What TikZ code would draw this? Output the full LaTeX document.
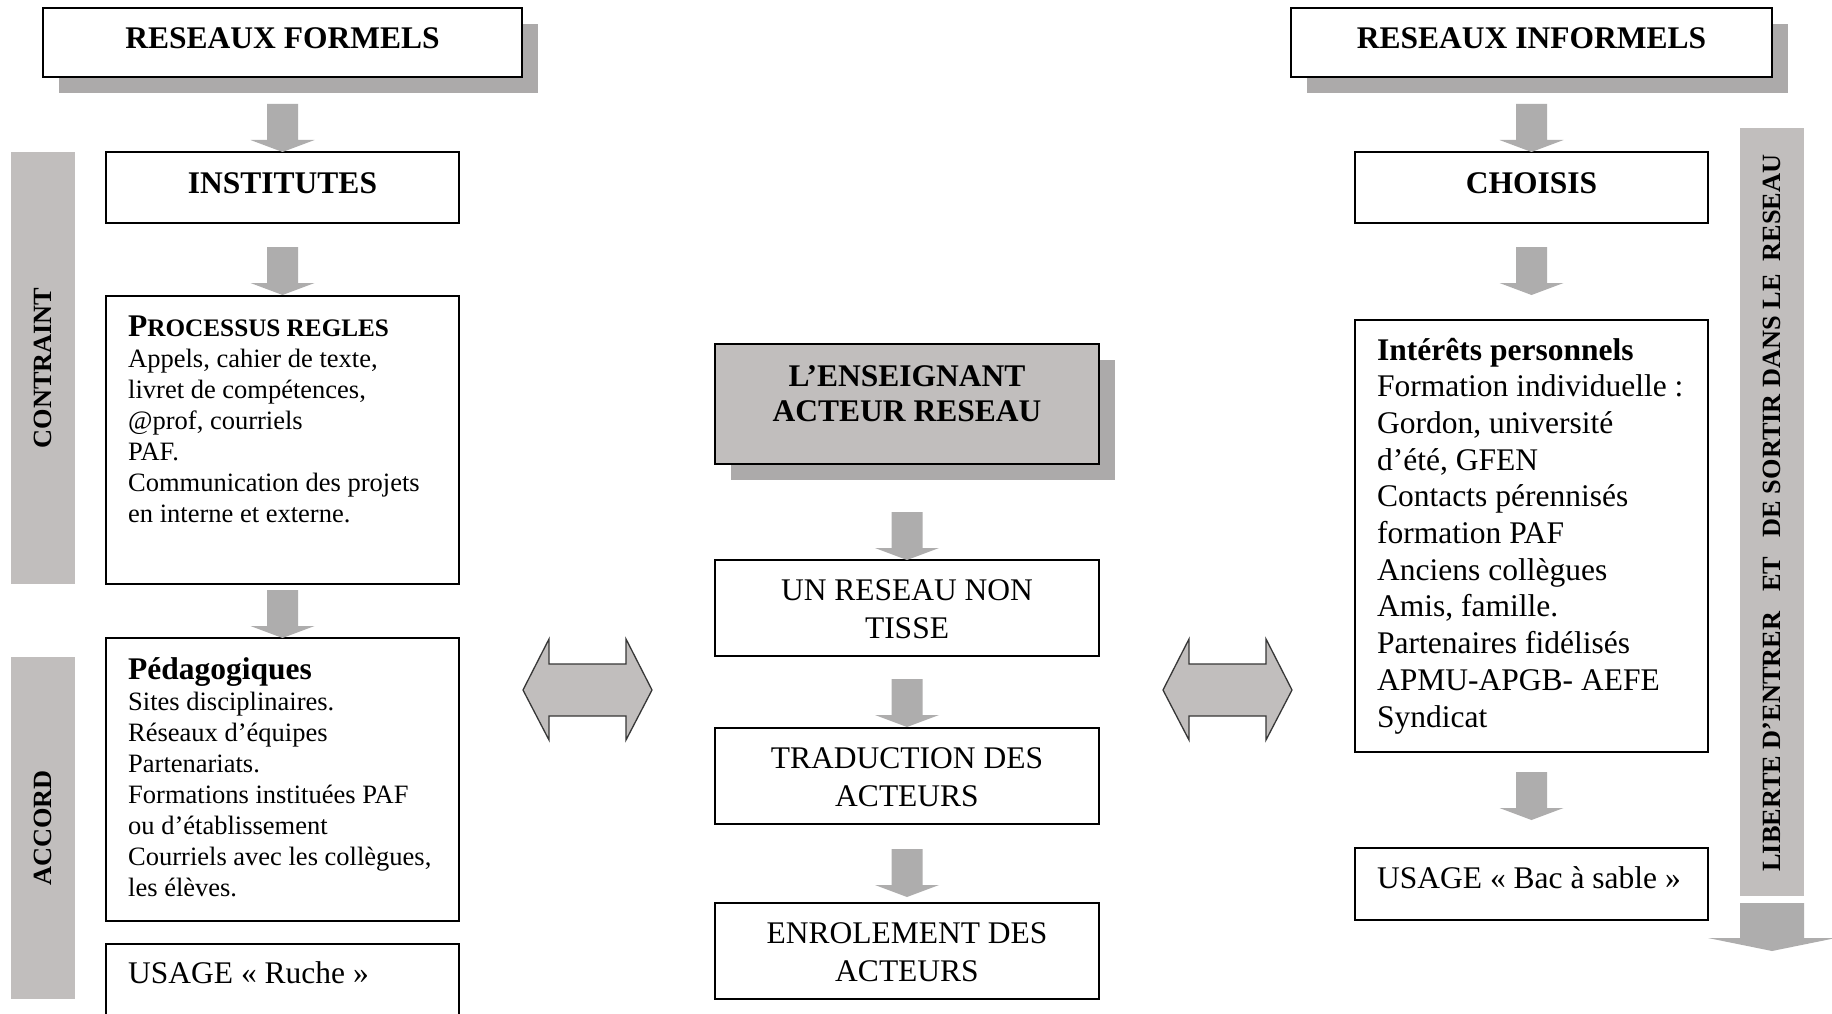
\documentclass[tikz,border=0pt]{standalone}
\usepackage{fontspec}
\setmainfont{Liberation Serif}
\usetikzlibrary{calc}
\definecolor{shadowgray}{RGB}{172,170,170}
\definecolor{arrowgray}{RGB}{174,173,173}
\definecolor{bargray}{RGB}{193,190,189}
\definecolor{edgegray}{RGB}{55,55,55}
\newcommand{\bigfont}{\fontsize{31.5}{36.7}\selectfont}
\newcommand{\smallfont}{\fontsize{26.5}{31}\selectfont}
\newcommand{\barfont}{\bfseries\fontsize{26.3}{30}\selectfont}
% block arrow pointing down; #1 = target node, #2 = gap above its top
\newcommand{\blockdown}[2]{%
  \coordinate (tip) at ($(#1.north)+(0,-#2)$);
  \fill[arrowgray] ($(tip)+(-15.5,-48)$) -- ($(tip)+(15.5,-48)$) -- ($(tip)+(15.5,-12)$)
    -- ($(tip)+(32,-12)$) -- (tip) -- ($(tip)+(-32,-12)$) -- ($(tip)+(-15.5,-12)$) -- cycle;}
\tikzset{
  box/.style={draw=black, line width=1.6pt, fill=white, inner sep=0pt, outer sep=0pt, anchor=north west},
  titlebox/.style={box, line width=2pt},
  shadowbox/.style={fill=shadowgray, draw=none, inner sep=0pt, outer sep=0pt, anchor=north west},
  bar/.style={fill=bargray, draw=none, inner sep=0pt, outer sep=0pt, anchor=north west},
  txt/.style={inner sep=0pt, anchor=base west},
  ctxt/.style={inner sep=0pt, anchor=base},
  bartext/.style={rotate=90, inner sep=0pt, font=\barfont},
  dblarrow/.style={fill=bargray, draw=edgegray, line width=1.3pt, line join=miter},
}
\begin{document}
\begin{tikzpicture}[x=1pt,y=-1pt]
\useasboundingbox (0,0) rectangle (1832,1014);
\fill[white] (0,0) rectangle (1832,1014);
\clip (0,0) rectangle (1832,1014);

% ---------- side bars ----------
\node[bar, minimum width=64, minimum height=432] (cbar) at (11,152) {};
\node[bartext] (ctext) at (cbar.center) {CONTRAINT};
\node[bar, minimum width=64, minimum height=342] (abar) at (11,657) {};
\node[bartext] (atext) at (abar.center) {ACCORD};
\node[bar, minimum width=64, minimum height=768] (rbar) at (1740,128) {};
\node[bartext] (rtext) at ($(rbar.center)+(0,1)$) {LIBERTE D’ENTRER\ \ \ ET\ \ \ DE SORTIR DANS LE\ \ RESEAU};
\fill[arrowgray] ($(rbar.south west)+(0,7)$) -- ($(rbar.south east)+(0,7)$) -- ($(rbar.south east)+(0,42)$)
  -- ($(rbar.south east)+(32,42)$) -- ($(rbar.south)+(0,55)$) -- ($(rbar.south west)+(-32,42)$)
  -- ($(rbar.south west)+(0,42)$) -- cycle;

% ---------- left column ----------
\node[shadowbox, minimum width=479, minimum height=69] (rfs) at (59,24) {};
\node[titlebox, minimum width=479, minimum height=69] (rf) at (43,8) {};
\node[ctxt] (rft) at (282.5,49) {\bfseries\bigfont RESEAUX FORMELS};

\node[box, minimum width=353, minimum height=71] (inst) at (106,152) {};
\node[ctxt] (instt) at (282.5,193.5) {\bfseries\bigfont INSTITUTES};

\node[box, minimum width=353, minimum height=288] (proc) at (106,296) {};
\node[txt] (proct) at (128,336) {\smallfont\vtop{%
  \hbox{\bfseries\fontsize{31.5}{31}\selectfont P\fontsize{25.2}{31}\selectfont ROCESSUS REGLES}
  \hbox{Appels, cahier de texte,}
  \hbox{livret de compétences,}
  \hbox{@prof, courriels}
  \hbox{PAF.}
  \hbox{Communication des projets}
  \hbox{en interne et externe.}}};

\node[box, minimum width=353, minimum height=283] (ped) at (106,638) {};
\node[txt] (pedt) at (128,679) {\smallfont\vtop{%
  \hbox{\bfseries\fontsize{31.5}{31}\selectfont Pédagogiques}
  \hbox{Sites disciplinaires.}
  \hbox{Réseaux d’équipes}
  \hbox{Partenariats.}
  \hbox{Formations instituées PAF}
  \hbox{ou d’établissement}
  \hbox{Courriels avec les collègues,}
  \hbox{les élèves.}}};

\node[box, minimum width=353, minimum height=100] (ruche) at (106,944) {};
\node[txt] (rucht) at (128,983) {\bigfont USAGE « Ruche »};

\blockdown{inst}{0}
\blockdown{proc}{1}
\blockdown{ped}{0}

% ---------- centre column ----------
\node[shadowbox, minimum width=384, minimum height=120] (enss) at (731,360) {};
\node[titlebox, fill=bargray, minimum width=384, minimum height=120] (ens) at (715,344) {};
\node[ctxt] (enst1) at (907,386) {\bfseries\bigfont L’ENSEIGNANT};
\node[ctxt] (enst2) at (907,421) {\bfseries\bigfont ACTEUR RESEAU};

\node[box, minimum width=384, minimum height=96] (unr) at (715,560) {};
\node[ctxt] (unrt1) at (907,600) {\bigfont UN RESEAU NON};
\node[ctxt] (unrt2) at (907,638) {\bigfont TISSE};

\node[box, minimum width=384, minimum height=96] (trad) at (715,728) {};
\node[ctxt] (tradt1) at (907,768) {\bigfont TRADUCTION DES};
\node[ctxt] (tradt2) at (907,806) {\bigfont ACTEURS};

\node[box, minimum width=384, minimum height=96] (enr) at (715,903) {};
\node[ctxt] (enrt1) at (907,943) {\bigfont ENROLEMENT DES};
\node[ctxt] (enrt2) at (907,981) {\bigfont ACTEURS};

\blockdown{unr}{0}
\blockdown{trad}{1}
\blockdown{enr}{6}

% ---------- double arrows ----------
\draw[dblarrow] (523,690) -- (549,639) -- (549,664) -- (626,664) -- (626,639) -- (652,690)
  -- (626,740) -- (626,716) -- (549,716) -- (549,740) -- cycle;
\draw[dblarrow] (1163,690) -- (1189,639) -- (1189,664) -- (1266,664) -- (1266,639) -- (1292,690)
  -- (1266,740) -- (1266,716) -- (1189,716) -- (1189,740) -- cycle;

% ---------- right column ----------
\node[shadowbox, minimum width=481, minimum height=69] (ris) at (1307,24) {};
\node[titlebox, minimum width=481, minimum height=69] (ri) at (1291,8) {};
\node[ctxt] (rit) at (1531.5,49) {\bfseries\bigfont RESEAUX INFORMELS};

\node[box, minimum width=353, minimum height=71] (cho) at (1355,152) {};
\node[ctxt] (chot) at (1531.5,193.5) {\bfseries\bigfont CHOISIS};

\node[box, minimum width=353, minimum height=432] (int) at (1355,320) {};
\node[txt] (intt) at (1377,360) {\bigfont\vtop{%
  \hbox{\bfseries Intérêts personnels}
  \hbox{Formation individuelle :}
  \hbox{Gordon, université}
  \hbox{d’été, GFEN}
  \hbox{Contacts pérennisés}
  \hbox{formation PAF}
  \hbox{Anciens collègues}
  \hbox{Amis, famille.}
  \hbox{Partenaires fidélisés}
  \hbox{APMU-APGB- AEFE}
  \hbox{Syndicat}}};

\node[box, minimum width=353, minimum height=72] (bac) at (1355,848) {};
\node[txt] (bact) at (1377,888) {\bigfont USAGE « Bac à sable »};

\blockdown{cho}{0}
\blockdown{int}{25}
\blockdown{bac}{28}
\end{tikzpicture}
\end{document}
